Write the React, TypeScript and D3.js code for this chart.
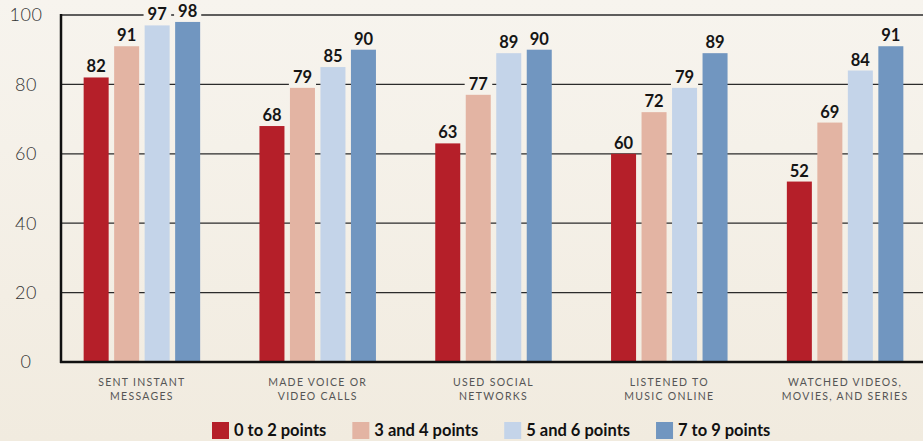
import * as d3 from "d3";
import React, { useEffect, useRef } from "react";

// categories, two lines each
const categories = [
	"SENT INSTANT|MESSAGES",
	"MADE VOICE OR|VIDEO CALLS",
	"USED SOCIAL|NETWORKS",
	"LISTENED TO|MUSIC ONLINE",
	"WATCHED VIDEOS,|MOVIES, AND SERIES",
];

const seriesNames = ["0 to 2 points", "3 and 4 points", "5 and 6 points", "7 to 9 points"];
const seriesColors = ["#b51f29", "#e3b4a3", "#c4d4e9", "#7196c0"];

const points0to2 = [82, 68, 63, 60, 52];
const points3and4 = [91, 79, 77, 72, 69];
const points5and6 = [97, 85, 89, 79, 84];
const points7to9 = [98, 90, 90, 89, 91];

const yTicks = [0, 20, 40, 60, 80, 100];

const W = 923;
const H = 441;

const App = () => {
	const svgRef = useRef<SVGSVGElement>(null);

	useEffect(() => {
		const svg = d3.select(svgRef.current);
		svg.selectAll("*").remove();

		const values = [points0to2, points3and4, points5and6, points7to9];

		const defs = svg.append("defs");
		const grad = defs
			.append("linearGradient")
			.attr("id", "bg")
			.attr("gradientUnits", "userSpaceOnUse")
			.attr("x1", 0)
			.attr("y1", 0)
			.attr("x2", 0)
			.attr("y2", H);
		grad.append("stop").attr("offset", "0%").attr("stop-color", "#f7f4ee");
		grad.append("stop").attr("offset", "100%").attr("stop-color", "#f1ebdf");

		svg.append("rect").attr("width", W).attr("height", H).attr("fill", "url(#bg)");

		const y = d3.scaleLinear().domain([0, 100]).range([362, 15]);
		const x = d3.scaleBand().domain(categories).range([54, 933]);
		const inner = d3.scaleBand().domain(seriesNames).range([0, 116.5]).paddingInner(0.18);
		const groupLeft = (c: string) => (x(c) ?? 0) + x.bandwidth() / 2 - 58.25;

		// gridlines
		svg
			.append("g")
			.selectAll("line")
			.data(yTicks.filter((t) => t > 0))
			.join("line")
			.attr("x1", 61)
			.attr("x2", W)
			.attr("y1", (d) => y(d))
			.attr("y2", (d) => y(d))
			.attr("stroke", "#2b2b2b")
			.attr("stroke-width", 1.3);

		// y tick labels
		svg
			.append("g")
			.selectAll("text")
			.data(yTicks)
			.join("text")
			.attr("x", 26)
			.attr("y", (d) => y(d))
			.attr("dy", "0.36em")
			.attr("text-anchor", "middle")
			.attr("font-family", "Lato, 'Noto Sans', sans-serif")
			.attr("font-weight", 300)
			.attr("font-size", 18)
			.attr("letter-spacing", 0.5)
			.attr("fill", "#333")
			.text((d) => d);

		// bars
		const groups = svg
			.append("g")
			.selectAll("g")
			.data(seriesNames)
			.join("g")
			.attr("fill", (_, i) => seriesColors[i]);

		groups
			.selectAll("rect")
			.data((s, si) => categories.map((c, ci) => ({ c, s, v: values[si][ci] })))
			.join("rect")
			.attr("x", (d) => groupLeft(d.c) + (inner(d.s) ?? 0))
			.attr("width", inner.bandwidth())
			.attr("y", (d) => y(d.v))
			.attr("height", (d) => y(0) - y(d.v));

		// value labels with background boxes
		const labels = svg.append("g");
		seriesNames.forEach((s, si) => {
			categories.forEach((c, ci) => {
				const v = values[si][ci];
				const cx = groupLeft(c) + (inner(s) ?? 0) + inner.bandwidth() / 2;
				const box = labels.append("rect").attr("fill", "url(#bg)");
				const t = labels
					.append("text")
					.attr("x", cx)
					.attr("y", y(v) - 5)
					.attr("text-anchor", "middle")
					.attr("font-family", "Lato, 'Noto Sans', sans-serif")
					.attr("font-weight", 700)
					.attr("font-size", 16.5)
					.attr("fill", "#151515")
					.text(v);
				const bb = (t.node() as SVGTextElement).getBBox();
				box
					.attr("x", bb.x - 4)
					.attr("y", bb.y + 1)
					.attr("width", bb.width + 8)
					.attr("height", bb.height - 1);
			});
		});

		// axes lines
		svg
			.append("line")
			.attr("x1", 61)
			.attr("x2", 61)
			.attr("y1", y(100) - 1)
			.attr("y2", y(0) + 1)
			.attr("stroke", "#111")
			.attr("stroke-width", 2.5);
		svg
			.append("line")
			.attr("x1", 60)
			.attr("x2", W)
			.attr("y1", y(0))
			.attr("y2", y(0))
			.attr("stroke", "#111")
			.attr("stroke-width", 2.5);

		// category labels
		const catText = svg
			.append("g")
			.selectAll("text")
			.data(categories)
			.join("text")
			.attr("text-anchor", "middle")
			.attr("font-family", "Lato, 'Noto Sans', sans-serif")
			.attr("font-size", 10.5)
			.attr("letter-spacing", 1.3)
			.attr("fill", "#555");
		catText
			.selectAll("tspan")
			.data((c) => c.split("|").map((line, i) => ({ line, i, cx: (x(c) ?? 0) + x.bandwidth() / 2 })))
			.join("tspan")
			.attr("x", (d) => d.cx)
			.attr("y", (d) => 386 + d.i * 14)
			.text((d) => d.line);

		// legend
		const legend = svg.append("g");
		let lx = 212;
		seriesNames.forEach((s, i) => {
			legend
				.append("rect")
				.attr("x", lx)
				.attr("y", 422)
				.attr("width", 17)
				.attr("height", 17)
				.attr("fill", seriesColors[i]);
			const t = legend
				.append("text")
				.attr("x", lx + 22)
				.attr("y", 436)
				.attr("font-family", "Lato, 'Noto Sans', sans-serif")
				.attr("font-weight", 700)
				.attr("font-size", 16.5)
				.attr("fill", "#111")
				.text(s);
			const w = (t.node() as SVGTextElement).getComputedTextLength();
			lx += 22 + w + 26;
		});
	}, []);

	return (
		<svg
			ref={svgRef}
			width={W}
			height={H}
			style={{ position: "fixed", left: 0, top: 0 }}
		/>
	);
};

export default App;
